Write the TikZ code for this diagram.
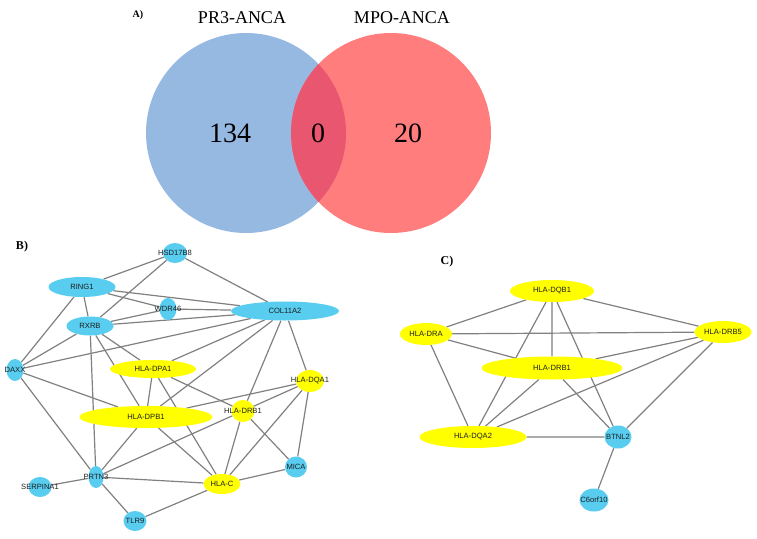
\documentclass[tikz,border=0pt]{standalone}
\usepackage{fontspec}
\setmainfont{Liberation Serif}
\newfontfamily\genefont{Liberation Sans}
\usetikzlibrary{shapes.geometric,backgrounds}

\definecolor{vennblue}{RGB}{150,185,226}
\definecolor{vennred}{RGB}{255,125,125}
\definecolor{vennmix}{RGB}{233,86,112}
\definecolor{geneblue}{RGB}{88,205,240}
\definecolor{geneyellow}{RGB}{255,255,0}
\definecolor{edgegray}{RGB}{128,128,128}
\definecolor{labelgray}{RGB}{30,30,30}

\tikzset{
    gene/.style={ellipse, inner sep=0pt, label={[genetext]center:#1}},
    bgene/.style={gene=#1, fill=geneblue},
    ygene/.style={gene=#1, fill=geneyellow},
    genetext/.style={font=\genefont\fontsize{7.6}{9}\selectfont, text=labelgray, inner sep=0pt},
    link/.style={draw=edgegray, line width=1.2pt},
    panel/.style={font=\bfseries\fontsize{12}{14}\selectfont},
}

\begin{document}
\begin{tikzpicture}[x=1pt, y=-1pt]
        \useasboundingbox (0,0) rectangle (757,538);

        % A) venn diagram
        \fill[vennblue] (246,133) circle (100pt);
        \fill[vennred] (391,133) circle (100pt);
        \begin{scope}
            \clip (246,133) circle (100pt);
            \fill[vennmix] (391,133) circle (100pt);
        \end{scope}
        \node[font=\bfseries\fontsize{10}{12}\selectfont] (pa) at (138,15) {A)};
        \node[font=\fontsize{18}{20}\selectfont] (pr3) at (242,18) {PR3-ANCA};
        \node[font=\fontsize{18}{20}\selectfont] (mpo) at (402,18) {MPO-ANCA};
        \node[font=\fontsize{28}{30}\selectfont] (npr3) at (230,133) {134};
        \node[font=\fontsize{28}{30}\selectfont] (nboth) at (318,133) {0};
        \node[font=\fontsize{28}{30}\selectfont] (nmpo) at (408,133) {20};

        % B) network
        \node[panel] (pb) at (22,247) {B)};
        \node[bgene=HSD17B8, minimum width=24pt, minimum height=20pt] (hsd) at (175,253) {};
        \node[bgene=RING1, minimum width=67pt, minimum height=20pt] (ring) at (82,287) {};
        \node[bgene=WDR46, minimum width=17pt, minimum height=22pt] (wdr) at (168,309) {};
        \node[bgene=COL11A2, minimum width=108pt, minimum height=19pt] (col) at (285,311) {};
        \node[bgene=RXRB, minimum width=47pt, minimum height=19pt] (rxrb) at (90,326) {};
        \node[bgene=DAXX, minimum width=17pt, minimum height=22pt] (daxx) at (15,370) {};
        \node[ygene=HLA-DPA1, minimum width=86pt, minimum height=18pt] (dpa) at (153,369) {};
        \node[ygene=HLA-DQA1, minimum width=28pt, minimum height=22pt] (dqa) at (310,381) {};
        \node[ygene=HLA-DPB1, minimum width=133pt, minimum height=22pt] (dpb) at (146,417) {};
        \node[ygene=HLA-DRB1, minimum width=23pt, minimum height=22pt] (drb) at (243,411) {};
        \node[bgene=MICA, minimum width=22pt, minimum height=21pt] (mica) at (296,467) {};
        \node[bgene=PRTN3, minimum width=15pt, minimum height=22pt] (prtn) at (96,477) {};
        \node[bgene=SERPINA1, minimum width=23pt, minimum height=20pt] (serp) at (40,487) {};
        \node[ygene=HLA-C, minimum width=37pt, minimum height=20pt] (hlac) at (222,484) {};
        \node[bgene=TLR9, minimum width=23pt, minimum height=20pt] (tlr) at (135,521) {};

        % C) network
        \node[panel] (pc) at (447,262) {C)};
        \node[ygene=HLA-DQB1, minimum width=84pt, minimum height=22pt] (dqb1) at (552,291) {};
        \node[ygene=HLA-DRA, minimum width=52pt, minimum height=22pt] (dra) at (426,334) {};
        \node[ygene=HLA-DRB5, minimum width=57pt, minimum height=22pt] (drb5) at (723,332) {};
        \node[ygene=HLA-DRB1, minimum width=141pt, minimum height=23pt] (drb1) at (552,368) {};
        \node[ygene=HLA-DQA2, minimum width=107pt, minimum height=22pt] (dqa2) at (473,437) {};
        \node[bgene=BTNL2, minimum width=27pt, minimum height=23pt] (btnl) at (618,437) {};
        \node[bgene=C6orf10, minimum width=29pt, minimum height=23pt] (cfive) at (594,500) {};

        \begin{scope}[on background layer, every path/.style={link}]
            % B) links
            \draw (hsd) -- (ring) (hsd) -- (rxrb) (hsd) -- (col);
            \draw (ring) -- (wdr) (ring) -- (col) (ring) -- (rxrb) (ring) -- (daxx);
            \draw (rxrb) -- (wdr) (rxrb) -- (col) (wdr) -- (col);
            \draw (rxrb) -- (daxx) (rxrb) -- (dpa) (rxrb) -- (dpb) (rxrb) -- (prtn);
            \draw (daxx) -- (col) (daxx) -- (dpb) (daxx) -- (prtn);
            \draw (col) -- (dpa) (col) -- (dpb) (col) -- (drb) (col) -- (dqa);
            \draw (dpa) -- (dpb) (dpa) -- (drb) (dpa) -- (hlac);
            \draw (dqa) -- (dpb) (dqa) -- (drb) (dqa) -- (mica) (dqa) -- (hlac);
            \draw (dpb) -- (prtn) (dpb) -- (hlac);
            \draw (drb) -- (prtn) (drb) -- (hlac) (drb) -- (mica);
            \draw (prtn) -- (serp) (prtn) -- (hlac) (prtn) -- (tlr);
            \draw (hlac) -- (mica) (hlac) -- (tlr);
            % C) links
            \draw (dqb1) -- (dra) (dqb1) -- (drb5) (dqb1) -- (drb1) (dqb1) -- (dqa2) (dqb1) -- (btnl);
            \draw (dra) -- (drb5) (dra) -- (drb1) (dra) -- (dqa2);
            \draw (drb1) -- (drb5) (drb1) -- (dqa2) (drb1) -- (btnl);
            \draw (drb5) -- (dqa2) (drb5) -- (btnl);
            \draw (dqa2) -- (btnl) (btnl) -- (cfive);
        \end{scope}
    \end{tikzpicture}
\end{document}
